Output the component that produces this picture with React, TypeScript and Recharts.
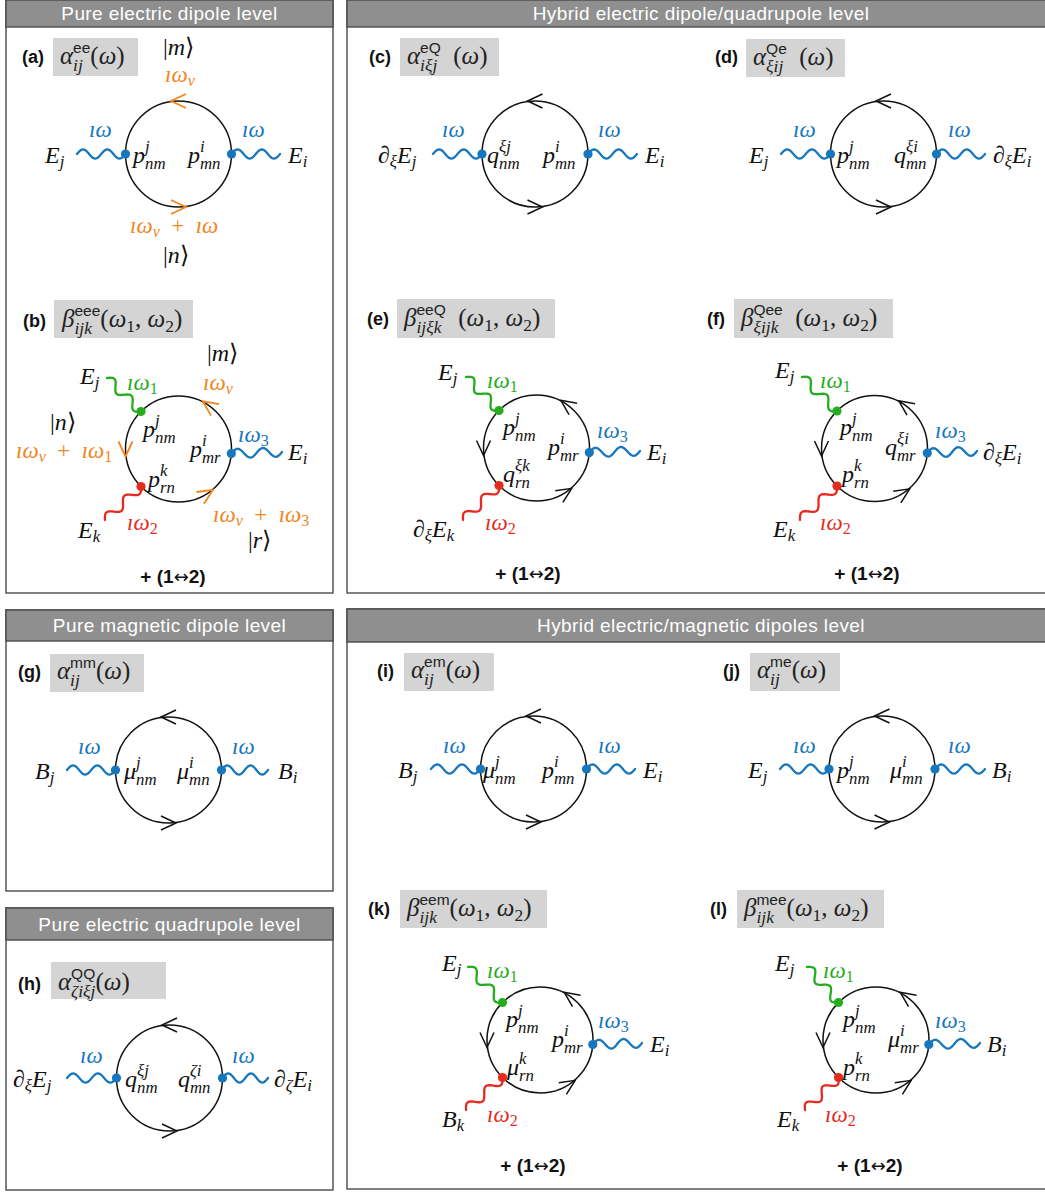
import React from "react";
import { ScatterChart, Scatter, XAxis, YAxis } from "recharts";

const W = 1045;
const H = 1192;
// the plot area is W x H and the axes run 0..W / 0..H, so one unit is one pixel
const PX = 1;
const R = 53;
const SERIF = '"Liberation Serif", "Times New Roman", Times, serif';
const SANS = '"Liberation Sans", Arial, Helvetica, sans-serif';
const INK: Record<string, string> = {
  k: "#111111",
  b: "#1677bd",
  g: "#25ad1c",
  r: "#e52b1f",
  o: "#f0861c",
};

// panel frames (top-left corner, bottom-right corner, bottom of the header bar)
const panels = [
  { x: 6, y: 0, x2: 333, y2: 593, hy: 27, title: "Pure electric dipole level" },
  { x: 347, y: 0, x2: 1055, y2: 593, hy: 27, title: "Hybrid electric dipole/quadrupole level" },
  { x: 6, y: 610, x2: 333, y2: 891, hy: 641, title: "Pure magnetic dipole level" },
  { x: 6, y: 908, x2: 333, y2: 1190, hy: 940, title: "Pure electric quadrupole level" },
  { x: 347, y: 609, x2: 1055, y2: 1189, hy: 642, title: "Hybrid electric/magnetic dipoles level" },
];

const tags = [
  { x: 22, y: 63, t: "(a)" },
  { x: 23, y: 327, t: "(b)" },
  { x: 369, y: 63, t: "(c)" },
  { x: 715, y: 63, t: "(d)" },
  { x: 367, y: 325, t: "(e)" },
  { x: 707, y: 325, t: "(f)" },
  { x: 18, y: 678, t: "(g)" },
  { x: 18, y: 990, t: "(h)" },
  { x: 377, y: 677, t: "(i)" },
  { x: 723, y: 677, t: "(j)" },
  { x: 368, y: 915, t: "(k)" },
  { x: 710, y: 915, t: "(l)" },
];

const boxes = [
  { x: 53, y: 38, x2: 138, y2: 76 },
  { x: 54, y: 300, x2: 193, y2: 338 },
  { x: 400, y: 38, x2: 499, y2: 76 },
  { x: 746, y: 39, x2: 845, y2: 77 },
  { x: 397, y: 299, x2: 555, y2: 338 },
  { x: 734, y: 299, x2: 893, y2: 338 },
  { x: 50, y: 654, x2: 144, y2: 692 },
  { x: 51, y: 962, x2: 166, y2: 999 },
  { x: 404, y: 653, x2: 494, y2: 691 },
  { x: 750, y: 653, x2: 840, y2: 691 },
  { x: 400, y: 890, x2: 547, y2: 928 },
  { x: 737, y: 890, x2: 884, y2: 928 },
];

const formulas = [
  { x: 60, y: 64, tex: "α^{!ee}_{ij}(ω)" },
  { x: 62, y: 327, tex: "β^{!eee}_{ijk}(ω_{1}, ω_{2})" },
  { x: 407, y: 64, tex: "α^{!eQ}_{iξj}  (ω)" },
  { x: 753, y: 65, tex: "α^{!Qe}_{ξij}  (ω)" },
  { x: 404, y: 326, tex: "β^{!eeQ}_{ijξk}  (ω_{1}, ω_{2})" },
  { x: 741, y: 326, tex: "β^{!Qee}_{ξijk}  (ω_{1}, ω_{2})" },
  { x: 57, y: 679, tex: "α^{!mm}_{ij}(ω)" },
  { x: 58, y: 990, tex: "α^{!QQ}_{ζiξj}(ω)" },
  { x: 411, y: 678, tex: "α^{!em}_{ij}(ω)" },
  { x: 757, y: 678, tex: "α^{!me}_{ij}(ω)" },
  { x: 407, y: 916, tex: "β^{!eem}_{ijk}(ω_{1}, ω_{2})" },
  { x: 744, y: 916, tex: "β^{!mee}_{ijk}(ω_{1}, ω_{2})" },
];

// loop centres
const loops = [
  { x: 178.5, y: 154 },
  { x: 178.5, y: 449 },
  { x: 535, y: 154 },
  { x: 883.5, y: 154 },
  { x: 536.5, y: 448 },
  { x: 874.5, y: 448.5 },
  { x: 168.5, y: 770 },
  { x: 169.5, y: 1078 },
  { x: 533.5, y: 769 },
  { x: 882, y: 769 },
  { x: 540, y: 1040 },
  { x: 876, y: 1040 },
];

// chevrons on the loops: loop centre + angle on the circle (deg, screen coords)
const arrows = [
  { x: 178.5, y: 154, a: -90, c: "o" },
  { x: 178.5, y: 154, a: 90, c: "o" },
  { x: 178.5, y: 449, a: -55, c: "o" },
  { x: 178.5, y: 449, a: 180, c: "o" },
  { x: 178.5, y: 449, a: 58, c: "o" },
  { x: 535, y: 154, a: -90, c: "k" },
  { x: 535, y: 154, a: 90, c: "k" },
  { x: 883.5, y: 154, a: -90, c: "k" },
  { x: 883.5, y: 154, a: 90, c: "k" },
  { x: 536.5, y: 448, a: -55, c: "k" },
  { x: 536.5, y: 448, a: 180, c: "k" },
  { x: 536.5, y: 448, a: 57, c: "k" },
  { x: 874.5, y: 448.5, a: -55, c: "k" },
  { x: 874.5, y: 448.5, a: 180, c: "k" },
  { x: 874.5, y: 448.5, a: 57, c: "k" },
  { x: 168.5, y: 770, a: -90, c: "k" },
  { x: 168.5, y: 770, a: 90, c: "k" },
  { x: 169.5, y: 1078, a: -90, c: "k" },
  { x: 169.5, y: 1078, a: 90, c: "k" },
  { x: 533.5, y: 769, a: -90, c: "k" },
  { x: 533.5, y: 769, a: 90, c: "k" },
  { x: 882, y: 769, a: -90, c: "k" },
  { x: 882, y: 769, a: 90, c: "k" },
  { x: 540, y: 1040, a: -55, c: "k" },
  { x: 540, y: 1040, a: 180, c: "k" },
  { x: 540, y: 1040, a: 57, c: "k" },
  { x: 876, y: 1040, a: -55, c: "k" },
  { x: 876, y: 1040, a: 180, c: "k" },
  { x: 876, y: 1040, a: 57, c: "k" },
];

// photon legs: outer end -> vertex
const legs = [
  { x: 77, y: 154, x2: 125.5, y2: 154, c: "b" },
  { x: 280, y: 154, x2: 231.5, y2: 154, c: "b" },
  { x: 107, y: 378, x2: 141, y2: 411.5, c: "g" },
  { x: 105, y: 520, x2: 141, y2: 486.5, c: "r" },
  { x: 282, y: 452, x2: 231.3, y2: 453.6, c: "b" },
  { x: 433, y: 154, x2: 482, y2: 154, c: "b" },
  { x: 637, y: 154, x2: 588, y2: 154, c: "b" },
  { x: 781, y: 154, x2: 830.5, y2: 154, c: "b" },
  { x: 985, y: 154, x2: 936.5, y2: 154, c: "b" },
  { x: 466, y: 377, x2: 499, y2: 410.5, c: "g" },
  { x: 463, y: 520, x2: 499, y2: 485.5, c: "r" },
  { x: 640, y: 451, x2: 589.3, y2: 452.6, c: "b" },
  { x: 802, y: 377, x2: 837, y2: 411, c: "g" },
  { x: 800, y: 520, x2: 837, y2: 486, c: "r" },
  { x: 977, y: 451, x2: 927.3, y2: 453, c: "b" },
  { x: 67, y: 770, x2: 115.5, y2: 770, c: "b" },
  { x: 268, y: 770, x2: 221.5, y2: 770, c: "b" },
  { x: 67, y: 1078, x2: 116.5, y2: 1078, c: "b" },
  { x: 268, y: 1078, x2: 222.5, y2: 1078, c: "b" },
  { x: 431, y: 769, x2: 480.5, y2: 769, c: "b" },
  { x: 635, y: 769, x2: 586.5, y2: 769, c: "b" },
  { x: 780, y: 769, x2: 829, y2: 769, c: "b" },
  { x: 985, y: 769, x2: 935, y2: 769, c: "b" },
  { x: 468, y: 967, x2: 502.5, y2: 1002.5, c: "g" },
  { x: 466, y: 1110, x2: 502.5, y2: 1077.5, c: "r" },
  { x: 642, y: 1043, x2: 592.8, y2: 1044.6, c: "b" },
  { x: 807, y: 967, x2: 838.5, y2: 1002.5, c: "g" },
  { x: 805, y: 1110, x2: 838.5, y2: 1077.5, c: "r" },
  { x: 980, y: 1043, x2: 928.8, y2: 1044.6, c: "b" },
];

const vertices = legs.map((l) => ({ x: l.x2, y: l.y2, c: l.c }));

// math labels, left edge + baseline; s: "m" main symbols, "w" frequencies
const labels = [
  { x: 45, y: 163, tex: "E_{j}", c: "k", s: "m" },
  { x: 288, y: 163, tex: "E_{i}", c: "k", s: "m" },
  { x: 133, y: 163, tex: "p^{j}_{nm}", c: "k", s: "m" },
  { x: 188, y: 163, tex: "p^{i}_{mn}", c: "k", s: "m" },
  { x: 89, y: 137, tex: "ıω", c: "b", s: "w" },
  { x: 242, y: 137, tex: "ıω", c: "b", s: "w" },
  { x: 163, y: 55, tex: "|m⟩", c: "k", s: "m" },
  { x: 165, y: 82, tex: "ıω_{ν}", c: "o", s: "w" },
  { x: 130, y: 233, tex: "ıω_{ν}  +  ıω", c: "o", s: "w" },
  { x: 163, y: 263, tex: "|n⟩", c: "k", s: "m" },

  { x: 80, y: 384, tex: "E_{j}", c: "k", s: "m" },
  { x: 127, y: 390, tex: "ıω_{1}", c: "g", s: "w" },
  { x: 78, y: 538, tex: "E_{k}", c: "k", s: "m" },
  { x: 127, y: 530, tex: "ıω_{2}", c: "r", s: "w" },
  { x: 207, y: 361, tex: "|m⟩", c: "k", s: "m" },
  { x: 203, y: 390, tex: "ıω_{ν}", c: "o", s: "w" },
  { x: 50, y: 430, tex: "|n⟩", c: "k", s: "m" },
  { x: 16, y: 458, tex: "ıω_{ν}  +  ıω_{1}", c: "o", s: "w" },
  { x: 143, y: 437, tex: "p^{j}_{nm}", c: "k", s: "m" },
  { x: 190, y: 457, tex: "p^{i}_{mr}", c: "k", s: "m" },
  { x: 148, y: 487, tex: "p^{k}_{rn}", c: "k", s: "m" },
  { x: 238, y: 442, tex: "ıω_{3}", c: "b", s: "w" },
  { x: 288, y: 460, tex: "E_{i}", c: "k", s: "m" },
  { x: 213, y: 522, tex: "ıω_{ν}  +  ıω_{3}", c: "o", s: "w" },
  { x: 248, y: 548, tex: "|r⟩", c: "k", s: "m" },

  { x: 378, y: 163, tex: "∂_{ξ}E_{j}", c: "k", s: "m" },
  { x: 487, y: 163, tex: "q^{ξj}_{nm}", c: "k", s: "m" },
  { x: 543, y: 163, tex: "p^{i}_{mn}", c: "k", s: "m" },
  { x: 645, y: 163, tex: "E_{i}", c: "k", s: "m" },
  { x: 442, y: 137, tex: "ıω", c: "b", s: "w" },
  { x: 598, y: 137, tex: "ıω", c: "b", s: "w" },

  { x: 749, y: 163, tex: "E_{j}", c: "k", s: "m" },
  { x: 837, y: 163, tex: "p^{j}_{nm}", c: "k", s: "m" },
  { x: 894, y: 163, tex: "q^{ξi}_{mn}", c: "k", s: "m" },
  { x: 993, y: 163, tex: "∂_{ξ}E_{i}", c: "k", s: "m" },
  { x: 793, y: 137, tex: "ıω", c: "b", s: "w" },
  { x: 948, y: 137, tex: "ıω", c: "b", s: "w" },

  { x: 438, y: 380, tex: "E_{j}", c: "k", s: "m" },
  { x: 487, y: 388, tex: "ıω_{1}", c: "g", s: "w" },
  { x: 503, y: 435, tex: "p^{j}_{nm}", c: "k", s: "m" },
  { x: 548, y: 455, tex: "p^{i}_{mr}", c: "k", s: "m" },
  { x: 597, y: 438, tex: "ıω_{3}", c: "b", s: "w" },
  { x: 647, y: 460, tex: "E_{i}", c: "k", s: "m" },
  { x: 503, y: 482, tex: "q^{ξk}_{rn}", c: "k", s: "m" },
  { x: 413, y: 537, tex: "∂_{ξ}E_{k}", c: "k", s: "m" },
  { x: 485, y: 530, tex: "ıω_{2}", c: "r", s: "w" },

  { x: 775, y: 378, tex: "E_{j}", c: "k", s: "m" },
  { x: 820, y: 388, tex: "ıω_{1}", c: "g", s: "w" },
  { x: 773, y: 537, tex: "E_{k}", c: "k", s: "m" },
  { x: 820, y: 530, tex: "ıω_{2}", c: "r", s: "w" },
  { x: 840, y: 435, tex: "p^{j}_{nm}", c: "k", s: "m" },
  { x: 885, y: 455, tex: "q^{ξi}_{mr}", c: "k", s: "m" },
  { x: 842, y: 482, tex: "p^{k}_{rn}", c: "k", s: "m" },
  { x: 935, y: 438, tex: "ıω_{3}", c: "b", s: "w" },
  { x: 983, y: 460, tex: "∂_{ξ}E_{i}", c: "k", s: "m" },

  { x: 35, y: 779, tex: "B_{j}", c: "k", s: "m" },
  { x: 278, y: 779, tex: "B_{i}", c: "k", s: "m" },
  { x: 124, y: 779, tex: "μ^{j}_{nm}", c: "k", s: "m" },
  { x: 177, y: 779, tex: "μ^{i}_{mn}", c: "k", s: "m" },
  { x: 78, y: 754, tex: "ıω", c: "b", s: "w" },
  { x: 232, y: 754, tex: "ıω", c: "b", s: "w" },

  { x: 13, y: 1087, tex: "∂_{ξ}E_{j}", c: "k", s: "m" },
  { x: 274, y: 1087, tex: "∂_{ζ}E_{i}", c: "k", s: "m" },
  { x: 125, y: 1087, tex: "q^{ξj}_{nm}", c: "k", s: "m" },
  { x: 178, y: 1087, tex: "q^{ζi}_{mn}", c: "k", s: "m" },
  { x: 80, y: 1063, tex: "ıω", c: "b", s: "w" },
  { x: 232, y: 1063, tex: "ıω", c: "b", s: "w" },

  { x: 398, y: 778, tex: "B_{j}", c: "k", s: "m" },
  { x: 483, y: 778, tex: "μ^{j}_{nm}", c: "k", s: "m" },
  { x: 542, y: 778, tex: "p^{i}_{mn}", c: "k", s: "m" },
  { x: 643, y: 778, tex: "E_{i}", c: "k", s: "m" },
  { x: 443, y: 753, tex: "ıω", c: "b", s: "w" },
  { x: 598, y: 753, tex: "ıω", c: "b", s: "w" },

  { x: 748, y: 778, tex: "E_{j}", c: "k", s: "m" },
  { x: 837, y: 778, tex: "p^{j}_{nm}", c: "k", s: "m" },
  { x: 890, y: 778, tex: "μ^{i}_{mn}", c: "k", s: "m" },
  { x: 992, y: 778, tex: "B_{i}", c: "k", s: "m" },
  { x: 793, y: 753, tex: "ıω", c: "b", s: "w" },
  { x: 948, y: 753, tex: "ıω", c: "b", s: "w" },

  { x: 442, y: 971, tex: "E_{j}", c: "k", s: "m" },
  { x: 487, y: 978, tex: "ıω_{1}", c: "g", s: "w" },
  { x: 442, y: 1127, tex: "B_{k}", c: "k", s: "m" },
  { x: 487, y: 1122, tex: "ıω_{2}", c: "r", s: "w" },
  { x: 506, y: 1027, tex: "p^{j}_{nm}", c: "k", s: "m" },
  { x: 552, y: 1047, tex: "p^{i}_{mr}", c: "k", s: "m" },
  { x: 507, y: 1075, tex: "μ^{k}_{rn}", c: "k", s: "m" },
  { x: 598, y: 1028, tex: "ıω_{3}", c: "b", s: "w" },
  { x: 650, y: 1052, tex: "E_{i}", c: "k", s: "m" },

  { x: 775, y: 971, tex: "E_{j}", c: "k", s: "m" },
  { x: 823, y: 978, tex: "ıω_{1}", c: "g", s: "w" },
  { x: 777, y: 1127, tex: "E_{k}", c: "k", s: "m" },
  { x: 825, y: 1122, tex: "ıω_{2}", c: "r", s: "w" },
  { x: 843, y: 1027, tex: "p^{j}_{nm}", c: "k", s: "m" },
  { x: 888, y: 1047, tex: "μ^{i}_{mr}", c: "k", s: "m" },
  { x: 843, y: 1075, tex: "p^{k}_{rn}", c: "k", s: "m" },
  { x: 935, y: 1028, tex: "ıω_{3}", c: "b", s: "w" },
  { x: 987, y: 1052, tex: "B_{i}", c: "k", s: "m" },
];

// "+ (1<->2)" notes, centre + baseline
const swaps = [
  { x: 173, y: 583 },
  { x: 528, y: 580 },
  { x: 867, y: 580 },
  { x: 533, y: 1172 },
  { x: 870, y: 1172 },
];

const SIZES: Record<string, number> = { m: 24, w: 23, f: 25 };

// ---- tiny math typesetter: letters italic, digits/punctuation upright,
// ^{..} / _{..} scripts, "!" at the start of a script = sans upright
function toRuns(s: string, sans: boolean) {
  const out: { t: string; f: string }[] = [];
  for (const ch of s) {
    const f = sans ? "s" : /[A-Za-z\u0370-\u03ff\u0131\u2202]/.test(ch) ? "i" : "r";
    const last = out[out.length - 1];
    if (last && last.f === f) last.t += ch;
    else out.push({ t: ch, f });
  }
  return out;
}

function parseTex(tex: string) {
  const items: any[] = [];
  let buf = "";
  const flush = () => {
    if (buf) {
      items.push({ base: toRuns(buf, false) });
      buf = "";
    }
  };
  let i = 0;
  while (i < tex.length) {
    const ch = tex[i];
    if ((ch === "^" || ch === "_") && tex[i + 1] === "{") {
      const end = tex.indexOf("}", i);
      let body = tex.slice(i + 2, end);
      const sans = body[0] === "!";
      if (sans) body = body.slice(1);
      flush();
      const key = ch === "^" ? "sup" : "sub";
      const last = items[items.length - 1];
      const runs = toRuns(body, sans);
      if (last && !last.base && !last[key]) last[key] = runs;
      else items.push({ [key]: runs });
      i = end + 1;
    } else {
      buf += ch;
      i += 1;
    }
  }
  flush();
  return items;
}

let ctx: any = null;
function textWidth(t: string, size: number, f: string) {
  if (!ctx) ctx = document.createElement("canvas").getContext("2d");
  ctx.font = `${f === "i" ? "italic " : ""}${size}px ${f === "s" ? SANS : SERIF}`;
  return ctx.measureText(t).width;
}

function layoutTex(tex: string, size: number) {
  const pieces: any[] = [];
  let x = 0;
  for (const it of parseTex(tex)) {
    if (it.base) {
      for (const r of it.base) {
        pieces.push({ ...r, x, dy: 0, s: size });
        x += textWidth(r.t, size, r.f);
      }
      continue;
    }
    const both = it.sup && it.sub;
    let adv = 0;
    const groups: [any, number][] = [
      [it.sup, -0.46 * size],
      [it.sub, (both ? 0.27 : 0.18) * size],
    ];
    for (const [runs, dy] of groups) {
      if (!runs) continue;
      let xx = x;
      for (const r of runs) {
        const s = r.f === "s" ? size * 0.62 : size * 0.7;
        pieces.push({ ...r, x: xx, dy, s });
        xx += textWidth(r.t, s, r.f);
      }
      adv = Math.max(adv, xx - x);
    }
    x += adv;
  }
  return pieces;
}

function MathText({ x, y, tex, size, color }: any) {
  const pieces = layoutTex(tex, size);
  return (
    <g>
      {pieces.map((p, i) => (
        <text
          key={i}
          x={x + p.x}
          y={y + p.dy}
          fontSize={p.s}
          fontStyle={p.f === "i" ? "italic" : "normal"}
          fontFamily={p.f === "s" ? SANS : SERIF}
          fill={color}
          style={{ whiteSpace: "pre" }}
        >
          {p.t}
        </text>
      ))}
    </g>
  );
}

// ---- scatter shapes
const PanelShape = (p: any) => {
  const d = p.payload;
  const w = (d.x2 - d.x) * PX;
  const h = (d.y2 - d.y) * PX;
  const hh = (d.hy - d.y) * PX;
  return (
    <g>
      <rect x={p.cx} y={p.cy} width={w} height={h} fill="#fff" stroke="#4a4a4a" strokeWidth={1.4} />
      <rect x={p.cx} y={p.cy} width={w} height={hh} fill="#8f8f8f" stroke="#4a4a4a" strokeWidth={1.4} />
      <text
        x={p.cx + w / 2}
        y={p.cy + hh / 2 + 6.5}
        textAnchor="middle"
        fill="#fff"
        fontFamily={SANS}
        fontSize={19}
        letterSpacing={0.4}
      >
        {d.title}
      </text>
    </g>
  );
};

const BoxShape = (p: any) => {
  const d = p.payload;
  return (
    <rect
      x={p.cx}
      y={p.cy}
      width={(d.x2 - d.x) * PX}
      height={(d.y2 - d.y) * PX}
      fill="#d4d4d4"
    />
  );
};

const TagShape = (p: any) => (
  <text x={p.cx} y={p.cy} fontFamily={SANS} fontWeight="bold" fontSize={18} fill="#111">
    {p.payload.t}
  </text>
);

const SwapShape = (p: any) => (
  <text x={p.cx} y={p.cy} textAnchor="middle" fontFamily={SANS} fontWeight="bold" fontSize={19} fill="#111">
    + (1
    <tspan fontFamily='"DejaVu Sans", sans-serif' fontWeight="normal" fontSize={18}>
      ↔
    </tspan>
    2)
  </text>
);

const LoopShape = (p: any) => (
  <circle cx={p.cx} cy={p.cy} r={R * PX} fill="none" stroke="#111" strokeWidth={1.5} />
);

const ArrowShape = (p: any) => {
  const d = p.payload;
  const th = (d.a * Math.PI) / 180;
  const ax = p.cx + R * PX * Math.cos(th);
  const ay = p.cy + R * PX * Math.sin(th);
  return (
    <path
      d="M-7.5,-7 L7.5,0 L-7.5,7"
      transform={`translate(${ax},${ay}) rotate(${d.a - 90})`}
      fill="none"
      stroke={INK[d.c]}
      strokeWidth={d.c === "o" ? 1.8 : 1.5}
    />
  );
};

const LegShape = (p: any) => {
  const d = p.payload;
  const dx = (d.x2 - d.x) * PX;
  const dy = (d.y2 - d.y) * PX;
  const L = Math.hypot(dx, dy);
  const nx = dy / L;
  const ny = -dx / L;
  const steps = 48;
  let path = "";
  for (let i = 0; i <= steps; i++) {
    const t = i / steps;
    const o = 4.6 * Math.sin(2 * Math.PI * 2 * t);
    path += `${i ? "L" : "M"}${(p.cx + dx * t + nx * o).toFixed(2)},${(p.cy + dy * t + ny * o).toFixed(2)}`;
  }
  return (
    <path d={path} fill="none" stroke={INK[d.c]} strokeWidth={2.3} strokeLinecap="round" strokeLinejoin="round" />
  );
};

const VertexShape = (p: any) => <circle cx={p.cx} cy={p.cy} r={4.6} fill={INK[p.payload.c]} />;

const FormulaShape = (p: any) => (
  <MathText x={p.cx} y={p.cy} tex={p.payload.tex} size={SIZES.f} color="#222" />
);

const LabelShape = (p: any) => (
  <MathText x={p.cx} y={p.cy} tex={p.payload.tex} size={SIZES[p.payload.s]} color={INK[p.payload.c]} />
);

export default function App() {
  return (
    <div style={{ width: W, height: H, background: "#fff" }}>
      <style>{"html,body{margin:0;padding:0;background:#fff}"}</style>
      <ScatterChart width={W} height={H} margin={{ top: 0, right: 0, bottom: 0, left: 0 }}>
        <XAxis type="number" dataKey="x" domain={[0, W]} allowDataOverflow hide />
        <YAxis type="number" dataKey="y" domain={[0, H]} allowDataOverflow reversed hide />
        <Scatter data={panels} shape={PanelShape} isAnimationActive={false} />
        <Scatter data={boxes} shape={BoxShape} isAnimationActive={false} />
        <Scatter data={tags} shape={TagShape} isAnimationActive={false} />
        <Scatter data={formulas} shape={FormulaShape} isAnimationActive={false} />
        <Scatter data={loops} shape={LoopShape} isAnimationActive={false} />
        <Scatter data={arrows} shape={ArrowShape} isAnimationActive={false} />
        <Scatter data={legs} shape={LegShape} isAnimationActive={false} />
        <Scatter data={vertices} shape={VertexShape} isAnimationActive={false} />
        <Scatter data={labels} shape={LabelShape} isAnimationActive={false} />
        <Scatter data={swaps} shape={SwapShape} isAnimationActive={false} />
      </ScatterChart>
    </div>
  );
}
